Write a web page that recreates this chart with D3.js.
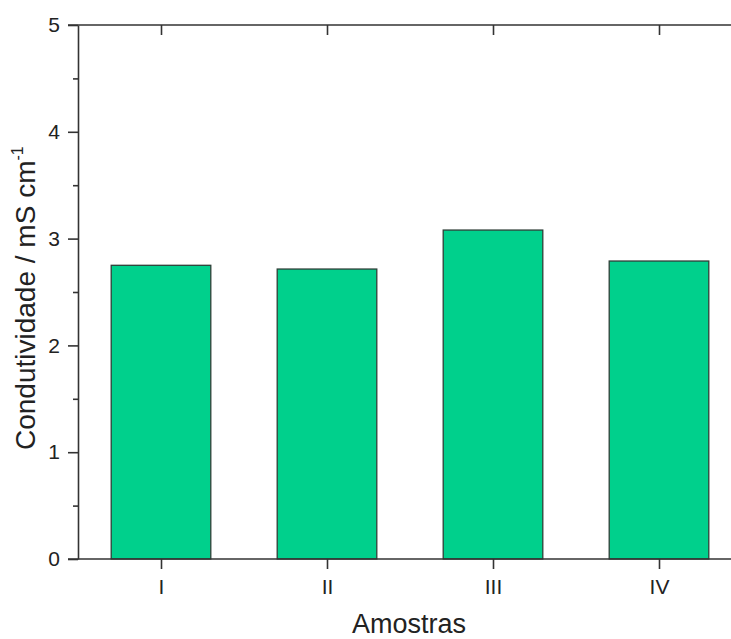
<!DOCTYPE html>
<html><head><meta charset="utf-8">
<script src="https://cdn.jsdelivr.net/npm/d3@7"></script>
<style>html,body{margin:0;padding:0;background:#fff;}svg{display:block;font-family:"Liberation Sans",Arial,sans-serif;}</style>
</head><body>
<svg id="c" width="731" height="639"></svg>
<script>
const categories = ["I","II","III","IV"];
const values = [2.75, 2.715, 3.08, 2.79];
const yTicks = [0,1,2,3,4,5];
const yMinor = [0.5,1.5,2.5,3.5,4.5];
const xTitle = "Amostras";
const yTitle = "Condutividade / mS cm";

const svg = d3.select("#c");
const L = 78, R = 742, T = 25, B = 559;
const x = d3.scaleBand().domain(categories).range([L, R]).paddingInner(0.4).paddingOuter(0.2);
const xc = d3.scalePoint().domain(categories).range([L, R]).padding(0.5);
const y = d3.scaleLinear().domain([0,5]).range([B, T]);
const axCol = "#333";

svg.selectAll("rect.bar").data(values).join("rect")
  .attr("class","bar")
  .attr("x",(d,i)=>x(categories[i]))
  .attr("width",x.bandwidth())
  .attr("y",d=>y(d))
  .attr("height",d=>B-y(d))
  .attr("fill","#00D08C")
  .attr("stroke","#2f3f38")
  .attr("stroke-width",1.3);

function styleAxis(g){
  g.select(".domain").attr("stroke",axCol).attr("stroke-width",1.6);
  g.selectAll(".tick line").attr("stroke",axCol).attr("stroke-width",1.6);
  g.selectAll(".tick text").attr("fill","#222").attr("font-size",21).attr("font-family","'Liberation Sans',Arial,sans-serif");
}
// left
const gl = svg.append("g").attr("transform",`translate(${L},0)`)
  .call(d3.axisLeft(y).tickValues(yTicks).tickSize(10).tickSizeOuter(0).tickPadding(8).tickFormat(d3.format("d")));
styleAxis(gl);
gl.append("g").call(d3.axisLeft(y).tickValues(yMinor).tickSize(5).tickFormat(""))
  .call(g=>{g.select(".domain").remove();g.selectAll("line").attr("stroke",axCol).attr("stroke-width",1.6);});
// right
const gr = svg.append("g").attr("transform",`translate(${R},0)`)
  .call(d3.axisLeft(y).tickValues(yTicks).tickSizeInner(10).tickSizeOuter(0).tickFormat(""));
styleAxis(gr);
gr.append("g").call(d3.axisLeft(y).tickValues(yMinor).tickSize(5).tickFormat(""))
  .call(g=>{g.select(".domain").remove();g.selectAll("line").attr("stroke",axCol).attr("stroke-width",1.6);});
// bottom
const gb = svg.append("g").attr("transform",`translate(0,${B})`)
  .call(d3.axisBottom(xc).tickSize(10).tickSizeOuter(0).tickPadding(10));
styleAxis(gb);
gb.select(".domain").attr("d",`M${L-10},0H${R}`);
// top
const gt = svg.append("g").attr("transform",`translate(0,${T})`)
  .call(d3.axisBottom(xc).tickSize(10).tickSizeOuter(0).tickFormat(""));
styleAxis(gt);
gt.select(".domain").attr("d",`M${L-10},0H${R}`);

// titles
svg.append("text").attr("x",409).attr("y",633).attr("text-anchor","middle")
  .attr("font-size",27).attr("fill","#222").text(xTitle);
const yt = svg.append("text").attr("transform",`translate(35,450) rotate(-90)`)
  .attr("text-anchor","start").attr("font-size",28).attr("fill","#222");
yt.append("tspan").text(yTitle);
yt.append("tspan").attr("font-size",16).attr("dy",-12).text("-1");
</script>
</body></html>
